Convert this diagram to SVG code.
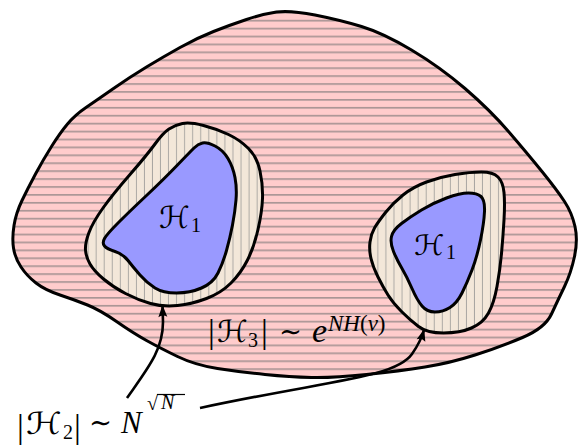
<svg xmlns="http://www.w3.org/2000/svg" width="579" height="445" viewBox="0 0 579 445">
<style>
.outline{stroke:#000;stroke-width:3;stroke-linejoin:round}
.pink{fill:url(#hlines)}
.beige{fill:url(#vlines)}
.blue{fill:#9999ff}
.conn{fill:none;stroke:#000;stroke-width:2.6;stroke-linecap:butt}
.t{font-family:"Liberation Serif","DejaVu Serif",serif;fill:#000}
.scr{font-family:"DejaVu Serif","DejaVu Sans",serif;fill:#000}
.it{font-style:italic}
</style>
<defs>
<pattern id="hlines" patternUnits="userSpaceOnUse" x="0" y="0" width="20" height="7.92">
<rect width="20" height="7.92" fill="#ffcccc"/>
<line x1="0" y1="4.86" x2="20" y2="4.86" stroke="#6f6f6f" stroke-width="1"/>
</pattern>
<pattern id="vlines" patternUnits="userSpaceOnUse" x="0" y="0" width="8.05" height="20">
<rect width="8.05" height="20" fill="#f3e7d9"/>
<line x1="7.6" y1="0" x2="7.6" y2="20" stroke="#a9a6a2" stroke-width="1"/>
</pattern>
<marker id="arr" markerUnits="userSpaceOnUse" markerWidth="14" markerHeight="12" viewBox="-12 -6 14 12" refX="0" refY="0" orient="auto">
<path d="M1,0 L-11,-4.5 Q-8,0 -11,4.5 Z" fill="#000"/>
</marker>
</defs>

<g id="region-H3">
<path class="outline pink" d="M315,15 Q340,20 361.5,26.5 Q383,33 411.5,50 Q440,67 465,88.5 Q490,110 508.5,131.5 Q527,153 542,171.5 Q557,190 564.5,201.5 Q572,213 575,226.5 Q578,240 574.5,256.5 Q571,273 564.5,286.5 Q558,300 551.5,314 Q545,328 522.5,337.5 Q500,347 475,355 Q450,363 425,367 Q400,371 366.5,374.5 Q333,378 311.5,377.5 Q290,377 265,374.5 Q240,372 217.5,368.5 Q195,365 177.5,356.5 Q160,348 146.5,340.5 Q133,333 116.5,321.5 Q100,310 87.5,305 Q75,300 60,295 Q45,290 36,283 Q27,276 21,267 Q15,258 13.5,248 Q12,238 14,225.5 Q16,213 22,200.5 Q28,188 35.5,174 Q43,160 51.5,146.5 Q60,133 67.5,124 Q75,115 86,107.5 Q97,100 113.5,88.5 Q130,77 146.5,67 Q163,57 180,47.5 Q197,38 213.5,31.5 Q230,25 246.5,19.5 Q263,14 276.5,12 Q290,10 315,15 Z"/>
</g>

<g id="region-H2-left">
<path class="outline beige" d="M203.5,125.5 Q217,129 228.5,134.5 Q240,140 248.5,148.5 Q257,157 260,171 Q263,185 262.5,198.5 Q262,212 258,229.5 Q254,247 247.5,260 Q241,273 231,283 Q221,293 206.5,298.5 Q192,304 177.5,305.5 Q163,307 150.5,303.5 Q138,300 125.5,293.5 Q113,287 103.5,279 Q94,271 90,264 Q86,257 85.5,250 Q85,243 89,232.5 Q93,222 103,208 Q113,194 130,174.5 Q147,155 155,144 Q163,133 169,129 Q175,125 182.5,123.5 Q190,122 203.5,125.5 Z"/>
</g>

<g id="region-H1-left">
<path class="outline blue" d="M215,146 Q223,150 228,158.5 Q233,167 235,177.5 Q237,188 236,200 Q235,212 232.5,225 Q230,238 226.5,250.5 Q223,263 218,273 Q213,283 201.5,288 Q190,293 176.5,293 Q163,293 155,288 Q147,283 140,275 Q133,267 128,260.5 Q123,254 115,251.5 Q107,249 104.5,246 Q102,243 104.5,238.5 Q107,234 118.5,222.5 Q130,211 146.5,195.5 Q163,180 176.5,166 Q190,152 194,148 Q198,144 202.5,143 Q207,142 215,146 Z"/>
<text class="scr it" x="159" y="228" font-size="30" textLength="31" lengthAdjust="spacingAndGlyphs">ℋ</text>
<text class="t" x="191" y="232" font-size="20">1</text>
</g>

<g id="region-H2-right">
<path class="outline beige" d="M481.5,172 Q493,172 498,177 Q503,182 504,192.5 Q505,203 504,220 Q503,237 501.5,253.5 Q500,270 497,286.5 Q494,303 488.5,313 Q483,323 471.5,328 Q460,333 443.5,333 Q427,333 418.5,326.5 Q410,320 401.5,311.5 Q393,303 388,295 Q383,287 378,277 Q373,267 371,258.5 Q369,250 370,242 Q371,234 374.5,228 Q378,222 385.5,212.5 Q393,203 403,195 Q413,187 426.5,182 Q440,177 455,174.5 Q470,172 481.5,172 Z"/>
</g>

<g id="region-H1-right">
<path class="outline blue" d="M468.5,193 Q477,193 481,196.5 Q485,200 484.5,211.5 Q484,223 480.5,240 Q477,257 472,270 Q467,283 462,293 Q457,303 450,307.5 Q443,312 435,312 Q427,312 422,306 Q417,300 412,288.5 Q407,277 402,268.5 Q397,260 393.5,251.5 Q390,243 391.5,236.5 Q393,230 401.5,223.5 Q410,217 421.5,210 Q433,203 446.5,198 Q460,193 468.5,193 Z"/>
<text class="scr it" x="414" y="255" font-size="28" textLength="30" lengthAdjust="spacingAndGlyphs">ℋ</text>
<text class="t" x="446" y="259" font-size="20">1</text>
</g>

<g id="label-H3">
<text class="t" x="208" y="343" font-size="34">|</text>
<text class="scr it" x="217" y="342" font-size="30" textLength="31" lengthAdjust="spacingAndGlyphs">ℋ</text>
<text class="t" x="248" y="347" font-size="20">3</text>
<text class="t" x="261" y="343" font-size="34">|</text>
<text class="t" x="279" y="341" font-size="28" textLength="23" lengthAdjust="spacingAndGlyphs">∼</text>
<text class="t it" x="312" y="342" font-size="34">e</text>
<text class="t" x="328" y="331" font-size="23"><tspan font-style="italic">NH</tspan>(<tspan font-style="italic">ν</tspan>)</text>
</g>

<g id="label-H2">
<text class="t" x="17" y="438" font-size="34">|</text>
<text class="scr it" x="26" y="434" font-size="30" textLength="36" lengthAdjust="spacingAndGlyphs">ℋ</text>
<text class="t" x="63" y="439" font-size="20">2</text>
<text class="t" x="74" y="438" font-size="34">|</text>
<text class="t" x="89" y="432" font-size="28" textLength="23" lengthAdjust="spacingAndGlyphs">∼</text>
<text class="t it" x="121" y="433" font-size="31">N</text>
<text class="t" x="147" y="410" font-size="20">√</text>
<line x1="157" y1="394.5" x2="185" y2="394.5" stroke="#000" stroke-width="1.2"/>
<text class="t it" x="161" y="409" font-size="20">N</text>
</g>

<g id="connectors">
<path class="conn" marker-end="url(#arr)" d="M127,398 C148,368 163,350 163,322 L162.5,306"/>
<path class="conn" marker-end="url(#arr)" d="M200,408 C330,380 395,378 412,354 C419,344 422,337 424,330"/>
</g>
</svg>
